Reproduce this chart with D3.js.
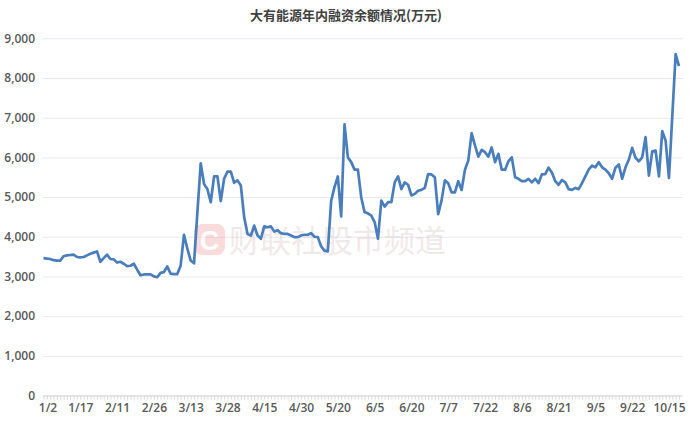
<!DOCTYPE html>
<html>
<head>
  <meta charset="utf-8">
  <title>大有能源年内融资余额情况</title>
  <script src="https://cdn.jsdelivr.net/npm/d3@7"></script>
  <style>
    body { margin:0; background:#fff; }
    #chart { width:692px; height:424px; }
    .tick text { font-family:"Open Sans","Noto Sans",sans-serif; font-weight:600; fill:#595959; }
  </style>
</head>
<body>
  <div id="chart"></div>
  <script>
    // trading days, 2025
    var dates = [
      '1/2','1/3','1/6','1/7','1/8','1/9','1/10','1/13','1/14','1/15','1/16','1/17','1/20','1/21','1/22','1/23','1/24','1/27',
      '2/5','2/6','2/7','2/10','2/11','2/12','2/13','2/14','2/17','2/18','2/19','2/20','2/21','2/24','2/25','2/26','2/27','2/28',
      '3/3','3/4','3/5','3/6','3/7','3/10','3/11','3/12','3/13','3/14','3/17','3/18','3/19','3/20','3/21','3/24','3/25','3/26','3/27','3/28','3/31',
      '4/1','4/2','4/3','4/7','4/8','4/9','4/10','4/11','4/14','4/15','4/16','4/17','4/18','4/21','4/22','4/23','4/24','4/25','4/28','4/29','4/30',
      '5/6','5/7','5/8','5/9','5/12','5/13','5/14','5/15','5/16','5/19','5/20','5/21','5/22','5/23','5/26','5/27','5/28','5/29','5/30',
      '6/3','6/4','6/5','6/6','6/9','6/10','6/11','6/12','6/13','6/16','6/17','6/18','6/19','6/20','6/23','6/24','6/25','6/26','6/27','6/30',
      '7/1','7/2','7/3','7/4','7/7','7/8','7/9','7/10','7/11','7/14','7/15','7/16','7/17','7/18','7/21','7/22','7/23','7/24','7/25','7/28','7/29','7/30','7/31',
      '8/1','8/4','8/5','8/6','8/7','8/8','8/11','8/12','8/13','8/14','8/15','8/18','8/19','8/20','8/21','8/22','8/25','8/26','8/27','8/28','8/29',
      '9/1','9/2','9/3','9/4','9/5','9/8','9/9','9/10','9/11','9/12','9/15','9/16','9/17','9/18','9/19','9/22','9/23','9/24','9/25','9/26','9/29','9/30',
      '10/9','10/10','10/13','10/14','10/15','10/16','10/17','10/20'
    ];

    // 融资余额 (万元)
    var balance = [
      3460,3450,3440,3410,3400,3400,3510,3530,3540,3550,3490,3480,3490,3530,3570,3600,3630,3370,
      3460,3550,3440,3430,3350,3370,3320,3260,3270,3320,3170,3030,3050,3050,3050,3000,2980,3090,
      3110,3250,3070,3060,3060,3270,4050,3700,3400,3330,4600,5850,5330,5200,4870,5520,5520,4900,5460,5640,5640,
      5360,5420,5290,4490,4070,4030,4280,4030,3950,4260,4240,4260,4130,4160,4090,4070,4070,4030,3990,3990,4030,
      4050,4050,4090,4000,3990,3760,3650,3630,4900,5250,5520,4510,6830,6000,5880,5690,5690,4990,4620,
      4590,4530,4370,3950,4910,4760,4870,4870,5370,5520,5200,5370,5310,5040,5080,5160,5180,5230,5580,5570,
      5500,4570,4910,5420,5350,5120,5120,5400,5180,5690,5920,6610,6300,6020,6190,6130,6020,6250,5880,6090,5690,5690,5900,
      6000,5500,5460,5400,5400,5460,5370,5460,5350,5570,5580,5740,5620,5400,5310,5430,5370,5200,5180,5230,5200,
      5350,5520,5690,5790,5750,5880,5750,5690,5600,5460,5740,5820,5460,5750,5940,6240,5990,5900,6000,6510,5540,6150,
      6170,5520,6660,6420,5480,7050,8600,8300
    ];

    var xLabels = ['1/2','1/17','2/11','2/26','3/13','3/28','4/15','4/30','5/20','6/5','6/20','7/7','7/22','8/6','8/21','9/5','9/22','10/15'];
    var yTicks = [0,1000,2000,3000,4000,5000,6000,7000,8000,9000];

    var width = 692, height = 424;
    var svg = d3.select('#chart').append('svg')
      .attr('width', width)
      .attr('height', height);

    var x = d3.scalePoint().domain(dates).range([43.5, 679]);
    var y = d3.scaleLinear().domain([0, 9000]).range([395.5, 38.3]);

    svg.append('text')
      .attr('x', 346)
      .attr('y', 20)
      .attr('text-anchor', 'middle')
      .style('font-family', '"Noto Sans CJK SC", sans-serif')
      .style('font-weight', 'bold')
      .style('font-size', '13px')
      .style('fill', '#404040')
      .text('大有能源年内融资余额情况(万元)');

    // grid + y labels
    var yAxis = svg.append('g')
      .attr('transform', 'translate(43,0)')
      .call(d3.axisLeft(y).tickValues(yTicks).tickFormat(d3.format(',')).tickSize(-640).tickPadding(8));
    yAxis.select('.domain').remove();
    yAxis.selectAll('.tick line').attr('stroke', '#e6e9ee');
    yAxis.selectAll('.tick text').style('font-size', '12px');

    // watermark
    var wm = svg.append('g').attr('opacity', 0.3);
    wm.append('rect')
      .attr('x', 194).attr('y', 224).attr('width', 31).attr('height', 31).attr('rx', 8)
      .attr('fill', '#f08a8a');
    wm.append('text')
      .attr('x', 209.5).attr('y', 250).attr('text-anchor', 'middle')
      .style('font-family', 'Arial, sans-serif').style('font-weight', 'bold').style('font-size', '27px')
      .style('fill', '#fff').text('C');
    wm.append('text')
      .attr('x', 229).attr('y', 252)
      .style('font-family', '"Noto Sans CJK SC", sans-serif').style('font-size', '31px')
      .style('fill', '#cfb8b8').text('财联社股市频道');

    // x axis
    var xAxis = svg.append('g')
      .attr('transform', 'translate(0,395.5)')
      .call(d3.axisBottom(x).tickSizeOuter(0).tickSize(4).tickPadding(4)
        .tickFormat(function(d) { return xLabels.indexOf(d) >= 0 ? d : ''; }));
    xAxis.select('.domain').attr('stroke', '#d9d9d9').attr('d', 'M43,0.5H682');
    xAxis.selectAll('.tick line').attr('stroke', '#d9d9d9');
    xAxis.selectAll('.tick text').style('font-size', '12px');
    xAxis.selectAll('.tick text').filter(function(d) { return d === '1/2'; }).attr('dx', 4);

    var line = d3.line()
      .x(function(d, i) { return x(dates[i]); })
      .y(function(d) { return y(d); });

    svg.append('path')
      .datum(balance)
      .attr('fill', 'none')
      .attr('stroke', '#4a7ebb')
      .attr('stroke-width', 2.7)
      .attr('stroke-linejoin', 'round')
      .attr('d', line);
  </script>
</body>
</html>
